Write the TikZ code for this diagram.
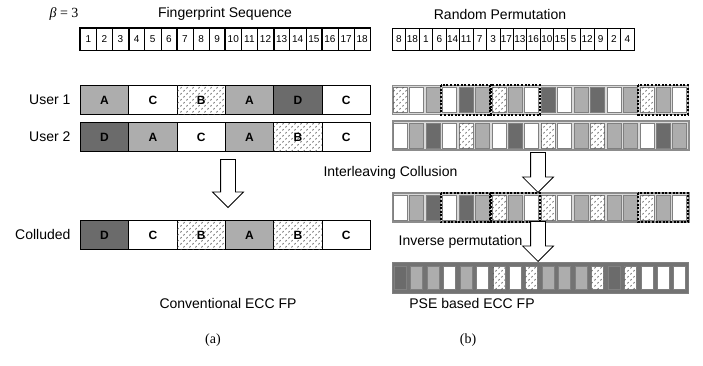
\documentclass[tikz,border=0pt]{standalone}
\usepackage{fontspec}
\setmainfont{Liberation Sans}
\newfontfamily\timesfont{Liberation Serif}
\usepackage{tikz}
\usetikzlibrary{positioning,shapes.arrows,patterns}
\definecolor{lightfill}{gray}{0.68}
\definecolor{darkfill}{gray}{0.42}
\definecolor{framegray}{gray}{0.55}
\pgfdeclarepatternformonly{specks}{\pgfqpoint{-1pt}{-1pt}}{\pgfqpoint{7pt}{7pt}}{\pgfqpoint{6pt}{6pt}}{%
  \pgfsetlinewidth{0.7pt}%
  \pgfpathmoveto{\pgfqpoint{0.5pt}{0.5pt}}\pgfpathlineto{\pgfqpoint{1.5pt}{1.9pt}}%
  \pgfpathmoveto{\pgfqpoint{3.5pt}{3.5pt}}\pgfpathlineto{\pgfqpoint{4.5pt}{4.9pt}}%
  \pgfusepath{stroke}}
\tikzset{
  every node/.style={font=\fontsize{14}{16}\selectfont},
  cell/.style={draw,line width=0.8pt,minimum width=48.33pt,minimum height=29pt,inner sep=0pt,
    anchor=north west,font=\fontsize{12}{14}\selectfont\bfseries},
  symA/.style={cell,fill=lightfill},
  symB/.style={cell,fill=white,postaction={pattern=specks,pattern color=black!70}},
  symC/.style={cell,fill=white},
  symD/.style={cell,fill=darkfill},
  numcell/.style={draw,line width=0.5pt,minimum height=22pt,inner sep=0pt,anchor=north west,
    font=\fontsize{10}{12}\selectfont},
  groupbox/.style={line width=1.6pt},
  strip/.style={draw=gray,line width=0.5pt,minimum width=14pt,minimum height=25pt,inner sep=0pt},
  stripW/.style={strip,fill=white},
  stripL/.style={strip,fill=lightfill},
  stripD/.style={strip,fill=darkfill},
  stripB/.style={strip,fill=white,postaction={pattern=specks,pattern color=black!70}},
  rowframe/.style={draw=framegray,line width=1pt,fill=gray!30,minimum width=296pt,
    minimum height=29pt,inner sep=0pt,anchor=west},
  dotbox/.style={line width=2pt,dash pattern=on 2pt off 1.6pt},
  blockarrow/.style={single arrow,draw,fill=white,line width=0.8pt,rotate=-90,anchor=tip,
    inner sep=7pt,single arrow head extend=8pt,minimum width=30pt}
}

\begin{document}
\begin{tikzpicture}[x=1pt,y=-1pt]
  \useasboundingbox (0,0) rectangle (703,365);
  % Layout
  \def\lx{80} \def\cw{48.33} \def\fw{16.11}
  \def\rx{392} \def\sw{16.44} \def\pw{13.44}

  % Titles
  \node (beta) at (64,14) {\timesfont\itshape β\upshape\ = 3};
  \node (fptitle) at (225,14) {Fingerprint Sequence};
  \node (rptitle) at (500,14) {Random Permutation};

  % Fingerprint sequence and permutation
  \foreach \i in {1,...,18}
    \node[numcell,minimum width=\fw pt] (fs\i) at ({\lx+(\i-1)*\fw},28) {\i};
  \foreach \a/\b in {1/3,4/6,7/9,10/12,13/15,16/18}
    \draw[groupbox] (fs\a.north west) rectangle (fs\b.south east);
  \foreach \p [count=\i] in {8,18,1,6,14,11,7,3,17,13,16,10,15,5,12,9,2,4}
    \node[numcell,minimum width=\pw pt] (rp\i) at ({\rx+(\i-1)*\pw},28) {\p};

  % Conventional ECC FP
  \node[anchor=east] (lu1) at (74,100) {User 1};
  \node[anchor=east] (lu2) at (74,137) {User 2};
  \node[anchor=east] (lcol) at (74,234) {Colluded};
  \foreach \s [count=\i] in {A,C,B,A,D,C}
    \node[sym\s] (ua\i) at ({\lx+(\i-1)*\cw},85) {\s};
  \foreach \s [count=\i] in {D,A,C,A,B,C}
    \node[sym\s] (ub\i) at ({\lx+(\i-1)*\cw},122) {\s};
  \foreach \s [count=\i] in {D,C,B,A,B,C}
    \node[sym\s] (uc\i) at ({\lx+(\i-1)*\cw},220) {\s};
  \node[blockarrow,minimum height=48pt] (arra) at (228,208) {};

  % PSE based ECC FP
  \node[rowframe] (pu1) at (\rx,100) {};
  \foreach \s [count=\i] in {B,W,L,W,D,L,B,L,W,D,W,L,D,W,L,B,L,W}
    \node[strip\s] (pa\i) at ({\rx+(\i-0.5)*\sw},100) {};
  \node[rowframe,line width=1.8pt] (pu2) at (\rx,135.5) {};
  \foreach \s [count=\i] in {W,L,D,W,B,L,W,D,W,B,W,L,B,L,L,W,D,L}
    \node[strip\s] (pb\i) at ({\rx+(\i-0.5)*\sw},135.5) {};
  \node[rowframe,line width=1.8pt] (pcol) at (\rx,207.5) {};
  \foreach \s [count=\i] in {W,L,D,W,D,L,B,L,W,B,W,L,B,L,L,B,L,W}
    \node[strip\s] (pc\i) at ({\rx+(\i-0.5)*\sw},207.5) {};
  \node[rowframe,fill=black!55,draw=gray,minimum height=31pt] (pinv) at (\rx,277.5) {};
  \foreach \s [count=\i] in {D,L,L,W,L,W,B,W,B,L,L,L,B,D,B,W,W,W}
    \node[strip\s,minimum width=12pt,minimum height=23pt] (pd\i) at ({\rx+(\i-0.5)*\sw},277.5) {};

  % Segments taken from user 1
  \foreach \r in {pa,pc}
    \foreach \a/\b in {4/6,7/9,16/18}
      \draw[dotbox] ([xshift=-1.2pt,yshift=2pt]\r\a.north west)
        rectangle ([xshift=1.2pt,yshift=-2pt]\r\b.south east);

  \node[blockarrow,minimum height=40pt] (arrb) at (538,193) {};
  \node[blockarrow,minimum height=40pt] (arrc) at (538,262) {};
  \node[anchor=west] (tint) at (320,173) {Interleaving Collusion};
  \node[anchor=east] (tinv) at (526,242) {Inverse permutation};

  % Captions
  \node (capa) at (228,303) {Conventional ECC FP};
  \node (capb) at (472,303) {PSE based ECC FP};
  \node (suba) at (213,340) {\timesfont (a)};
  \node (subb) at (468,340) {\timesfont (b)};
\end{tikzpicture}
\end{document}
